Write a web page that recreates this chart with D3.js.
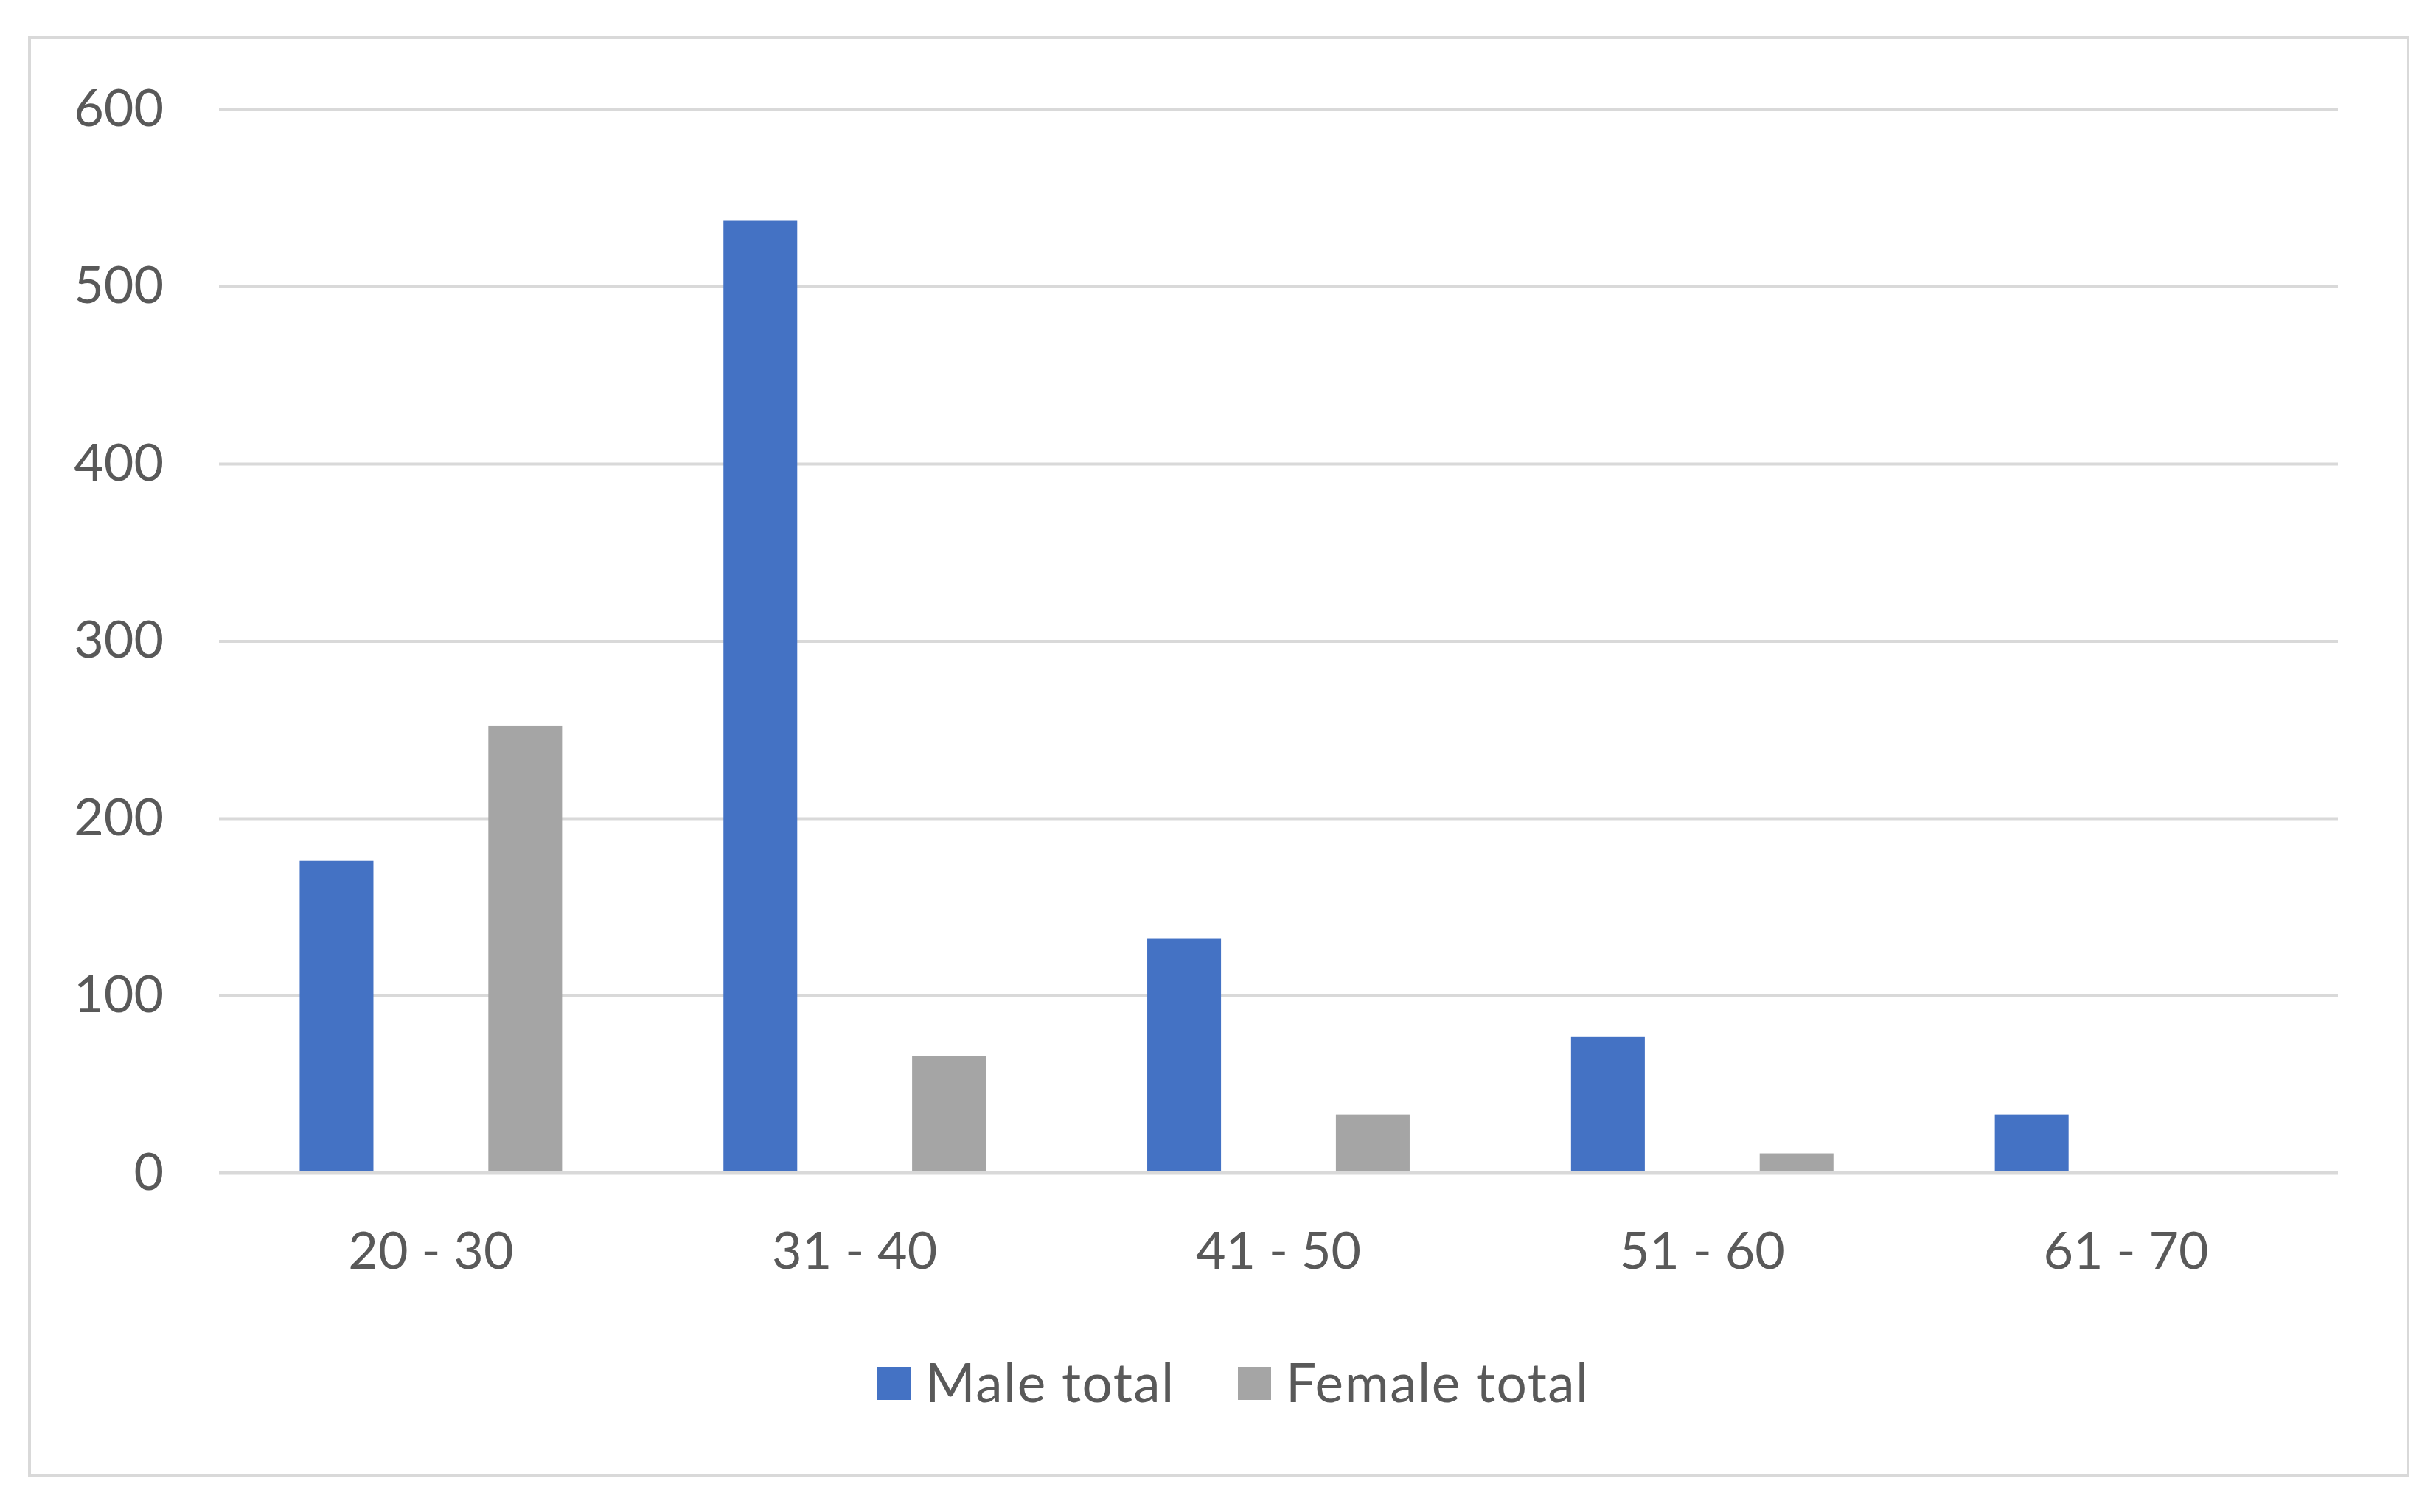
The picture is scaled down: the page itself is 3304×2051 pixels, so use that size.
<!DOCTYPE html>
<html>
<head>
<meta charset="utf-8">
<script src="https://cdn.jsdelivr.net/npm/d3@7/dist/d3.min.js"></script>
<style>
  html, body { margin: 0; padding: 0; background: #ffffff; }
  svg { display: block; }
  text { font-family: Lato, "Open Sans", sans-serif; fill: #595959; }
</style>
</head>
<body>
<svg id="chart" width="3304" height="2051"></svg>
<script>
const categories = ["20 - 30", "31 - 40", "41 - 50", "51 - 60", "61 - 70"];
const seriesNames = ["Male total", "Female total"];
const maleValues = [176, 537, 132, 77, 33];
const femaleValues = [252, 66, 33, 11, 0];
const yTicks = [0, 100, 200, 300, 400, 500, 600];
const seriesColors = ["#4472C4", "#A5A5A5"];

const svg = d3.select("#chart");
const W = 3304, H = 2051;
const plot = { left: 297, right: 3171, top: 148, bottom: 1591 };

svg.append("rect").attr("x", 0).attr("y", 0).attr("width", W).attr("height", H).attr("fill", "#fff");
svg.append("rect")
  .attr("x", 40).attr("y", 51).attr("width", 3226).attr("height", 1950)
  .attr("fill", "#fff").attr("stroke", "#D9D9D9").attr("stroke-width", 4);

const x = d3.scaleBand().domain(categories).range([plot.left, plot.right]).paddingInner(0).paddingOuter(0);
const xs = d3.scaleBand().domain(seriesNames).range([0, x.bandwidth()]).paddingInner(0.609).paddingOuter(0.4277);
const y = d3.scaleLinear().domain([0, 600]).range([plot.bottom, plot.top]);

// gridlines + y labels
const yAxis = svg.append("g")
  .attr("transform", `translate(${plot.left},0)`)
  .call(d3.axisLeft(y).tickValues(yTicks).tickSize(-(plot.right - plot.left)).tickPadding(75));
yAxis.select(".domain").remove();
yAxis.selectAll(".tick line").attr("stroke", "#D9D9D9").attr("stroke-width", 4);
yAxis.selectAll(".tick text")
  .attr("font-size", 70).attr("fill", "#595959")
  .attr("font-family", "Lato, 'Open Sans', sans-serif");

const data = categories.map((c, i) => ({ cat: c, values: [maleValues[i], femaleValues[i]] }));

const groups = svg.append("g").selectAll("g").data(data).join("g")
  .attr("transform", d => `translate(${x(d.cat)},0)`);
groups.selectAll("rect")
  .data(d => d.values.map((v, j) => ({ name: seriesNames[j], v, j })))
  .join("rect")
  .attr("x", d => xs(d.name))
  .attr("width", xs.bandwidth())
  .attr("y", d => y(d.v))
  .attr("height", d => y(0) - y(d.v))
  .attr("fill", d => seriesColors[d.j]);

// redraw baseline on top
svg.append("line")
  .attr("x1", plot.left).attr("x2", plot.right)
  .attr("y1", y(0)).attr("y2", y(0))
  .attr("stroke", "#D9D9D9").attr("stroke-width", 4);

// x axis labels
const xAxis = svg.append("g")
  .attr("transform", `translate(0,${plot.bottom})`)
  .call(d3.axisBottom(x).tickSize(0).tickPadding(80));
xAxis.select(".domain").remove();
xAxis.selectAll(".tick text")
  .attr("font-size", 70).attr("fill", "#595959")
  .attr("font-family", "Lato, 'Open Sans', sans-serif");

// legend
const legendItems = [
  { name: seriesNames[0], color: seriesColors[0], x: 1190 },
  { name: seriesNames[1], color: seriesColors[1], x: 1679 }
];
const lg = svg.append("g").selectAll("g").data(legendItems).join("g")
  .attr("transform", d => `translate(${d.x},1854)`);
lg.append("rect").attr("width", 45).attr("height", 45).attr("fill", d => d.color);
lg.append("text").attr("x", 65).attr("y", 22).attr("dy", "0.35em")
  .attr("font-size", 73).attr("letter-spacing", 1.5).text(d => d.name);
</script>
</body>
</html>
